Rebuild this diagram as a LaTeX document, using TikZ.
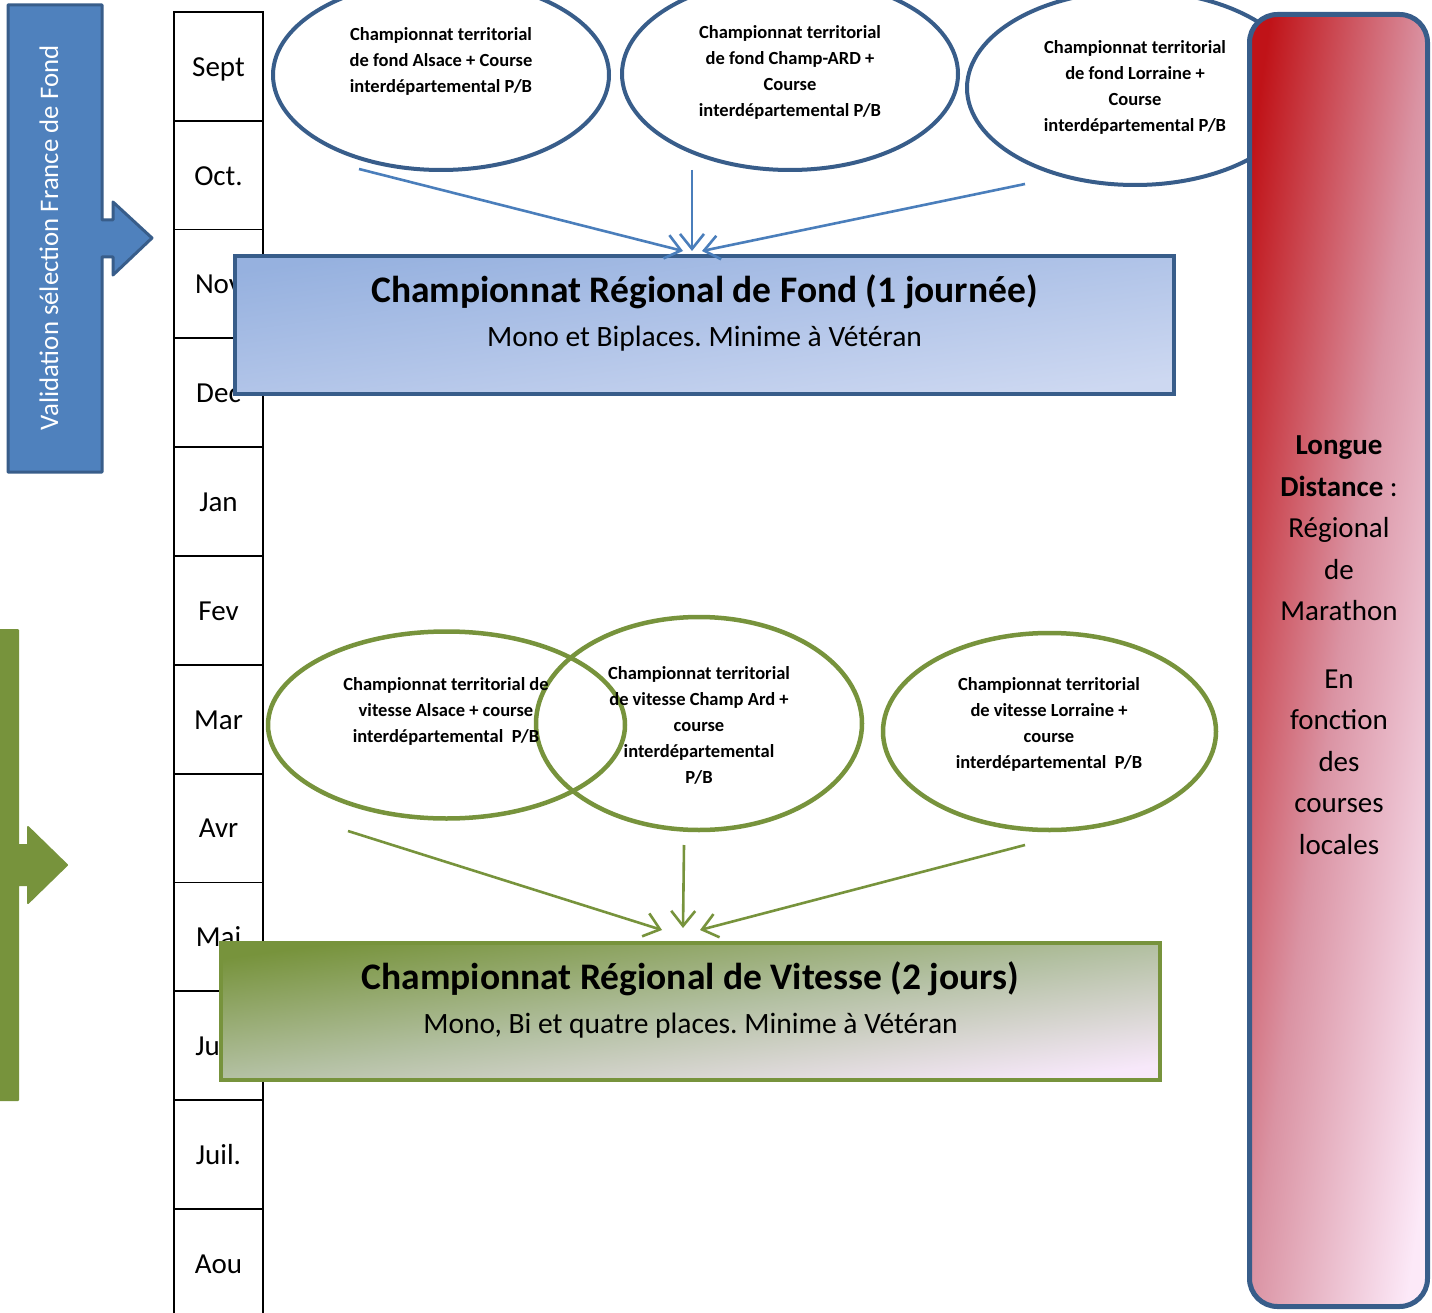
\documentclass[tikz,border=0pt]{standalone}
\usepackage{fontspec}
\setmainfont{Carlito}
\usetikzlibrary{shapes.geometric,arrows.meta}
\definecolor{bdark}{HTML}{385D8A}
\definecolor{bmain}{HTML}{4F81BD}
\definecolor{barrowc}{HTML}{4A7EBB}
\definecolor{gmain}{HTML}{77933C}
\definecolor{rtop}{HTML}{C01318}
\definecolor{rmid}{HTML}{DA93A3}
\definecolor{rbot}{HTML}{FCE9F8}
\definecolor{btop}{HTML}{96B1DF}
\definecolor{bmidc}{HTML}{B1C4E8}
\definecolor{bbot}{HTML}{CDD8F1}
\definecolor{gtop}{HTML}{77933C}
\definecolor{gmidc}{HTML}{B3C0A2}
\definecolor{gbot}{HTML}{F7E8FA}
\tikzset{
  month/.style={draw=black, line width=1.8pt, minimum width=89pt, minimum height=108.8pt, inner sep=0pt, text height=19.7pt, text depth=0pt, font=\fontsize{29}{34}\selectfont},
  bell/.style={ellipse, draw=bdark, line width=4pt, fill=white, inner sep=0pt},
  gell/.style={ellipse, draw=gmain, line width=4.5pt, inner sep=0pt},
  etxt/.style={align=center, inner sep=0pt, font=\bfseries\fontsize{18.5}{26}\selectfont},
  barr/.style={draw=barrowc, line width=2.6pt, -{Straight Barb[length=15pt,width=24pt]}},
  garr/.style={draw=gmain, line width=2.6pt, -{Straight Barb[length=15pt,width=24pt]}},
  fondbox/.style={draw=bdark, line width=4pt, inner sep=0pt, top color=btop, bottom color=bbot, middle color=bmidc, shading angle=8},
  vitbox/.style={draw=gmain, line width=4pt, inner sep=0pt, top color=gtop, bottom color=gbot, middle color=gmidc, shading angle=8},
  redbar/.style={draw=bdark, line width=5pt, rounded corners=28pt, inner sep=0pt, top color=rtop, bottom color=rbot, middle color=rmid, shading angle=82},
  titletxt/.style={inner sep=0pt, font=\bfseries\fontsize{37.5}{44}\selectfont},
  subtxt/.style={inner sep=0pt, font=\fontsize{29.5}{34}\selectfont},
}
\begin{document}
\frenchspacing
\begin{tikzpicture}[x=1pt,y=-1pt]
\useasboundingbox (0,0) rectangle (1432,1313);
\fill[white] (0,0) rectangle (1432,1313);

% month column
\node[month] (m1) at (218.5,66.4) {Sept};
\node[month] (m2) at (218.5,175.2) {Oct.};
\node[month] (m3) at (218.5,284.0) {Nov};
\node[month] (m4) at (218.5,392.8) {Dec};
\node[month] (m5) at (218.5,501.6) {Jan};
\node[month] (m6) at (218.5,610.4) {Fev};
\node[month] (m7) at (218.5,719.2) {Mar};
\node[month] (m8) at (218.5,828.0) {Avr};
\node[month] (m9) at (218.5,936.8) {Mai};
\node[month] (m10) at (218.5,1045.6) {Juin};
\node[month] (m11) at (218.5,1154.4) {Juil.};
\node[month] (m12) at (218.5,1263.2) {Aou};

% left blue arrow
\path[draw=bdark, fill=bmain, line width=3pt, line join=round]
  (8,5) -- (102,5) -- (102,220) -- (113,220) -- (113,202) -- (152,238) -- (113,275) -- (113,257) -- (102,257) -- (102,472) -- (8,472) -- cycle;
\node[rotate=90, text=white, inner sep=0pt, font=\fontsize{26.8}{30}\selectfont] (valid) at (49,238) {Validation sélection France de Fond};

% left green arrow
\path[draw=gmain, fill=gmain, line width=2pt, line join=round]
  (-40,630) -- (18,630) -- (18,845) -- (28,845) -- (28,827) -- (67,865) -- (28,903) -- (28,885) -- (18,885) -- (18,1100) -- (-40,1100) -- cycle;

% fond box
\node[fondbox, minimum width=939pt, minimum height=138pt] (fond) at (704.5,325) {};
\node[titletxt] (fondt) at (704.5,292) {Championnat Régional de Fond (1 journée)};
\node[subtxt] (fonds) at (704.5,339) {Mono et Biplaces. Minime à Vétéran};

% vitesse box
\node[vitbox, minimum width=939pt, minimum height=137pt] (vit) at (690.5,1011.5) {};
\node[titletxt] (vitt) at (690.5,979) {Championnat Régional de Vitesse (2 jours)};
\node[subtxt] (vits) at (690.5,1026) {Mono, Bi et quatre places. Minime à Vétéran};

% blue ellipses
\node[bell, minimum width=336pt, minimum height=190pt] (f1) at (441,75) {};
\node[etxt] (f1t) at (441,61) {Championnat territorial\\de fond Alsace + Course\\interdépartemental P/B};
\node[bell, minimum width=336pt, minimum height=192pt] (f2) at (790,74) {};
\node[etxt] (f2t) at (790,72) {Championnat territorial\\de fond Champ-ARD +\\Course\\interdépartemental P/B};
\node[bell, minimum width=336pt, minimum height=194pt] (f3) at (1135,88) {};
\node[etxt] (f3t) at (1135,87) {Championnat territorial\\de fond Lorraine +\\Course\\interdépartemental P/B};

% green ellipses
\node[gell, minimum width=357pt, minimum height=187pt] (g1) at (446.5,725) {};
\node[gell, minimum width=326pt, minimum height=213pt] (g2) at (699,723.5) {};
\node[gell, minimum width=333pt, minimum height=197pt] (g3) at (1049.5,731.5) {};
\node[etxt] (g1t) at (446,711) {Championnat territorial de\\vitesse Alsace + course\\interdépartemental\ \ P/B};
\node[etxt] (g2t) at (699,725) {Championnat territorial\\de vitesse Champ Ard +\\course\\interdépartemental\\P/B};
\node[etxt] (g3t) at (1049,724) {Championnat territorial\\de vitesse Lorraine +\\course\\interdépartemental\ \ P/B};

% blue connectors
\coordinate (bs1) at (359,169);
\coordinate (bs2) at (692,170);
\coordinate (bs3) at (1025,184);
\draw[barr] (bs1) -- ([xshift=-21.5pt,yshift=3pt]fond.north);
\draw[barr] (bs2) -- ([xshift=-12.5pt,yshift=3pt]fond.north);
\draw[barr] (bs3) -- ([xshift=-2.5pt,yshift=3pt]fond.north);

% green connectors
\coordinate (gs1) at (348,831);
\coordinate (gs2) at (684,845);
\coordinate (gs3) at (1025,845);
\draw[garr] (gs1) -- ([xshift=-28.5pt,yshift=11pt]vit.north);
\draw[garr] (gs2) -- ([xshift=-7.5pt,yshift=13pt]vit.north);
\draw[garr] (gs3) -- ([xshift=9.5pt,yshift=11pt]vit.north);

% red bar
\node[redbar, minimum width=178pt, minimum height=1292pt] (ld) at (1338.5,660.5) {};
\node[align=center, inner sep=0pt, font=\fontsize{29}{41.5}\selectfont] (ldt) at (1339,645) {\textbf{Longue}\\\textbf{Distance} :\\Régional\\de\\Marathon\\[26pt]En\\fonction\\des\\courses\\locales};
\end{tikzpicture}
\end{document}
